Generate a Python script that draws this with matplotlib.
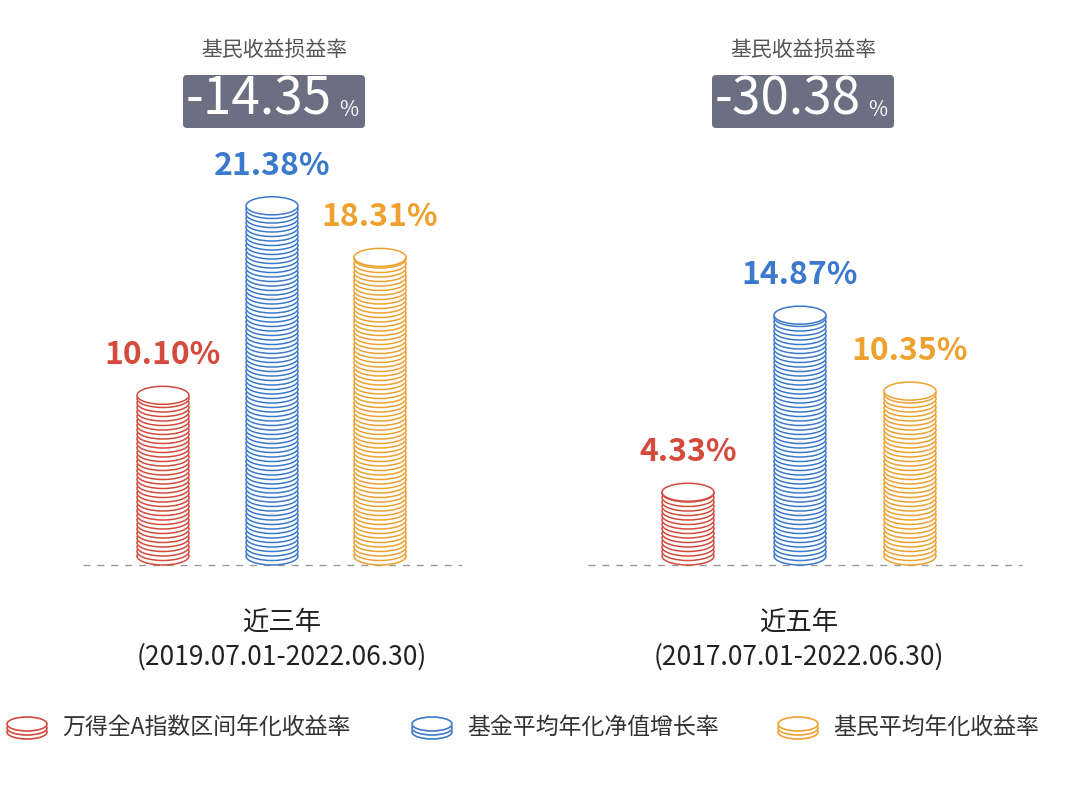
import matplotlib
matplotlib.use("Agg")
import matplotlib.pyplot as plt
from matplotlib import font_manager as fm
from matplotlib.patches import Ellipse, FancyBboxPatch

cjk = [f.name for f in fm.fontManager.ttflist if "CJK" in f.name]
pref = [n for n in cjk if n.endswith("SC")] or cjk
plt.rcParams["font.family"] = [pref[0] if pref else "Noto Sans CJK SC", "DejaVu Sans"]

groups = ["近三年", "近五年"]
periods = ["(2019.07.01-2022.06.30)", "(2017.07.01-2022.06.30)"]
loss_rates = ["-14.35", "-30.38"]
series_names = ["万得全A指数区间年化收益率", "基金平均年化净值增长率", "基民平均年化收益率"]
values = [[10.10, 21.38, 18.31], [4.33, 14.87, 10.35]]
colors = ["#d44a3c", "#3b79cc", "#eea12e"]

W, H = 1080, 801
PX = 16.8  # pixels per percent
base = 565
fig = plt.figure(figsize=(W/100, H/100), dpi=100)
ax = fig.add_axes([0, 0, 1, 1])
ax.set_xlim(0, W)
ax.set_ylim(-(H-base)/PX, base/PX)
ax.axis("off")

def py(p):  # pixel y -> data y
    return (base - p)/PX

centers = [[163, 272, 380], [688, 800, 910]]
coin_w = 52
coin_h = 18/PX
step = 4.5/PX

def coin_stack(x, top, color, w=coin_w, h=coin_h, stepv=step, lw=1.1):
    y = h/2
    ys = []
    while y < top:
        ys.append(y)
        y += stepv
    ys.append(top)
    for yy in ys:
        ax.add_patch(Ellipse((x, yy), w, h, facecolor="white", edgecolor=color, lw=lw, zorder=3))

for g in range(2):
    for i, v in enumerate(values[g]):
        x = centers[g][i]
        coin_stack(x, v, colors[i])
        ax.text(x, v + 40/PX, f"{v:.2f}%", color=colors[i], fontsize=23, fontweight="bold",
                ha="center", va="center", zorder=4)
    xs = centers[g]
    ax.plot([xs[0]-80, xs[2]+82] if g == 0 else [xs[0]-100, xs[2]+112], [0, 0],
            ls=(0, (5, 5)), color="#999999", lw=1, zorder=1)
    cx = (xs[0]+xs[2])/2 + (10 if g == 0 else 0)
    ax.text(cx, py(622), groups[g], fontsize=19, ha="center", va="center", color="#222222")
    ax.text(cx, py(657), periods[g], fontsize=19, ha="center", va="center", color="#222222")
    bx0 = 183 if g == 0 else 712
    ax.text(bx0 + 91, py(50), "基民收益损益率", fontsize=15, ha="center", va="center", color="#555555")
    ax.add_patch(FancyBboxPatch((bx0, py(128)), 182, 53/PX,
                                boxstyle="round,pad=0,rounding_size=4", facecolor="#6c6f82",
                                edgecolor="none", mutation_aspect=1/PX))
    ax.text(bx0 + 3, py(100), loss_rates[g], fontsize=37, ha="left", va="center", color="white")
    ax.text(bx0 + 156, py(110), "%", fontsize=15, ha="left", va="center", color="white")

legend_x = [27, 432, 798]
for i, name in enumerate(series_names):
    x = legend_x[i]
    for k in range(3):
        ax.add_patch(Ellipse((x, py(732 - k*4)), 40, 14/PX, facecolor="white",
                             edgecolor=colors[i], lw=1.2))
    ax.text(x + 35, py(727), name, fontsize=16.5, ha="left", va="center", color="#333333")

fig.savefig("out.png", dpi=100)
